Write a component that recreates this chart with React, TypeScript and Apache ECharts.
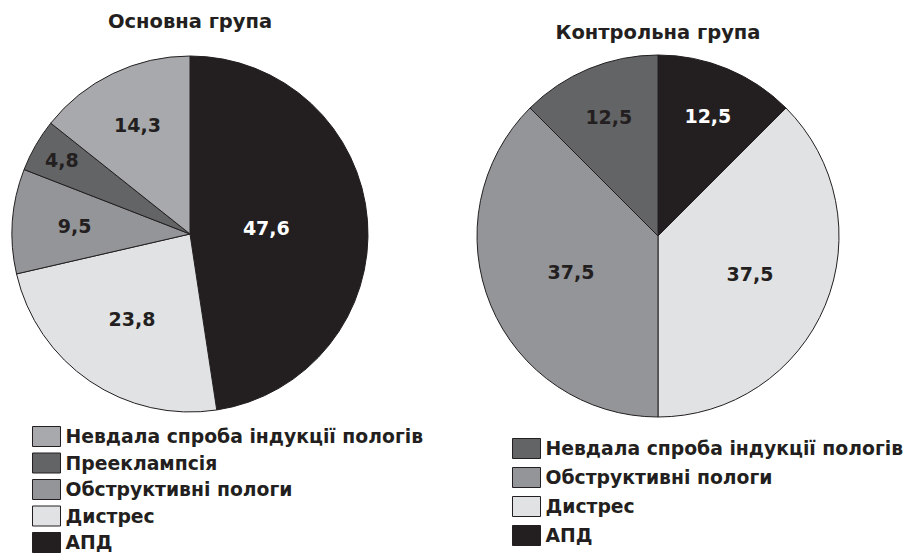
import React, { useEffect, useRef } from "react";
import * as echarts from "echarts";

const titles = ["Основна група", "Контрольна група"];

const mainNames = ["АПД", "Дистрес", "Обструктивні пологи", "Прееклампсія", "Невдала спроба індукції пологів"];
const mainValues = [47.6, 23.8, 9.5, 4.8, 14.3];
const mainLabels = ["47,6", "23,8", "9,5", "4,8", "14,3"];
const mainColors = ["#231f20", "#e1e2e4", "#939598", "#636466", "#a7a9ac"];
const mainLabelRadius = [0.43, 0.58, 0.65, 0.83, 0.68];

const ctrlNames = ["АПД", "Дистрес", "Обструктивні пологи", "Невдала спроба індукції пологів"];
const ctrlValues = [12.5, 37.5, 37.5, 12.5];
const ctrlLabels = ["12,5", "37,5", "37,5", "12,5"];
const ctrlColors = ["#231f20", "#e1e2e4", "#939598", "#636466"];
const ctrlLabelRadius = [0.72, 0.55, 0.52, 0.71];

const FONT = "DejaVu Sans";
const DARK = "#231f20";

function midAngles(values: number[]) {
  const total = values.reduce((a, b) => a + b, 0);
  let acc = 0;
  return values.map((v) => {
    const mid = (acc + v / 2) / total;
    acc += v;
    return mid * 2 * Math.PI;
  });
}

function makeSeries(
  names: string[],
  values: number[],
  labels: string[],
  colors: string[],
  radii: number[],
  center: [number, number],
  r: number
) {
  const angles = midAngles(values);
  return {
    type: "pie",
    center,
    radius: r,
    startAngle: 90,
    clockwise: true,
    avoidLabelOverlap: false,
    silent: true,
    itemStyle: { borderColor: DARK, borderWidth: 1 },
    labelLine: { show: false },
    data: names.map((n, i) => ({
      name: n,
      value: values[i],
      itemStyle: { color: colors[i] },
      label: {
        show: true,
        position: "inside",
        formatter: labels[i],
        color: i === 0 ? "#ffffff" : DARK,
        fontFamily: FONT,
        fontWeight: "bold",
        fontSize: 19,
      },
    })),
    labelLayout: (p: any) => {
      const i = p.dataIndex;
      const a = angles[i];
      return {
        x: center[0] + radii[i] * r * Math.sin(a),
        y: center[1] - radii[i] * r * Math.cos(a),
        align: "center",
        verticalAlign: "middle",
      };
    },
  };
}

function legendOf(names: string[], colors: string[], left: number, top: number, gap: number) {
  const order = names.map((_, i) => i).reverse();
  return {
    orient: "vertical",
    left,
    top,
    width: 400,
    height: 140,
    padding: 0,
    itemWidth: 28,
    itemHeight: 20,
    itemGap: gap,
    selectedMode: false,
    icon: "rect",
    itemStyle: { borderColor: DARK, borderWidth: 1 },
    textStyle: { fontFamily: FONT, fontWeight: "bold", fontSize: 18.8, lineHeight: 20, color: DARK },
    data: order.map((i) => ({ name: names[i], itemStyle: { color: colors[i], borderColor: DARK, borderWidth: 1 } })),
  };
}

export default function App() {
  const ref = useRef<HTMLDivElement>(null);
  useEffect(() => {
    if (!ref.current) return;
    const chart = echarts.init(ref.current, null, { renderer: "svg" });
    chart.setOption({
      animation: false,
      backgroundColor: "#ffffff",
      title: [
        {
          text: titles[0],
          left: 190,
          top: 11,
          padding: 0,
          textAlign: "center",
          textStyle: { fontFamily: FONT, fontWeight: "bold", fontSize: 19.5, color: DARK },
        },
        {
          text: titles[1],
          left: 658,
          top: 22,
          padding: 0,
          textAlign: "center",
          textStyle: { fontFamily: FONT, fontWeight: "bold", fontSize: 19.5, color: DARK },
        },
      ],
      legend: [
        legendOf(mainNames, mainColors, 32, 426, 5.5),
        legendOf(ctrlNames, ctrlColors, 512, 438, 8),
      ],
      series: [
        makeSeries(mainNames, mainValues, mainLabels, mainColors, mainLabelRadius, [190, 234], 178),
        makeSeries(ctrlNames, ctrlValues, ctrlLabels, ctrlColors, ctrlLabelRadius, [658, 236], 181),
      ],
    });
    return () => chart.dispose();
  }, []);
  return <div ref={ref} style={{ width: 912, height: 556, position: "absolute", left: 0, top: 0 }} />;
}
